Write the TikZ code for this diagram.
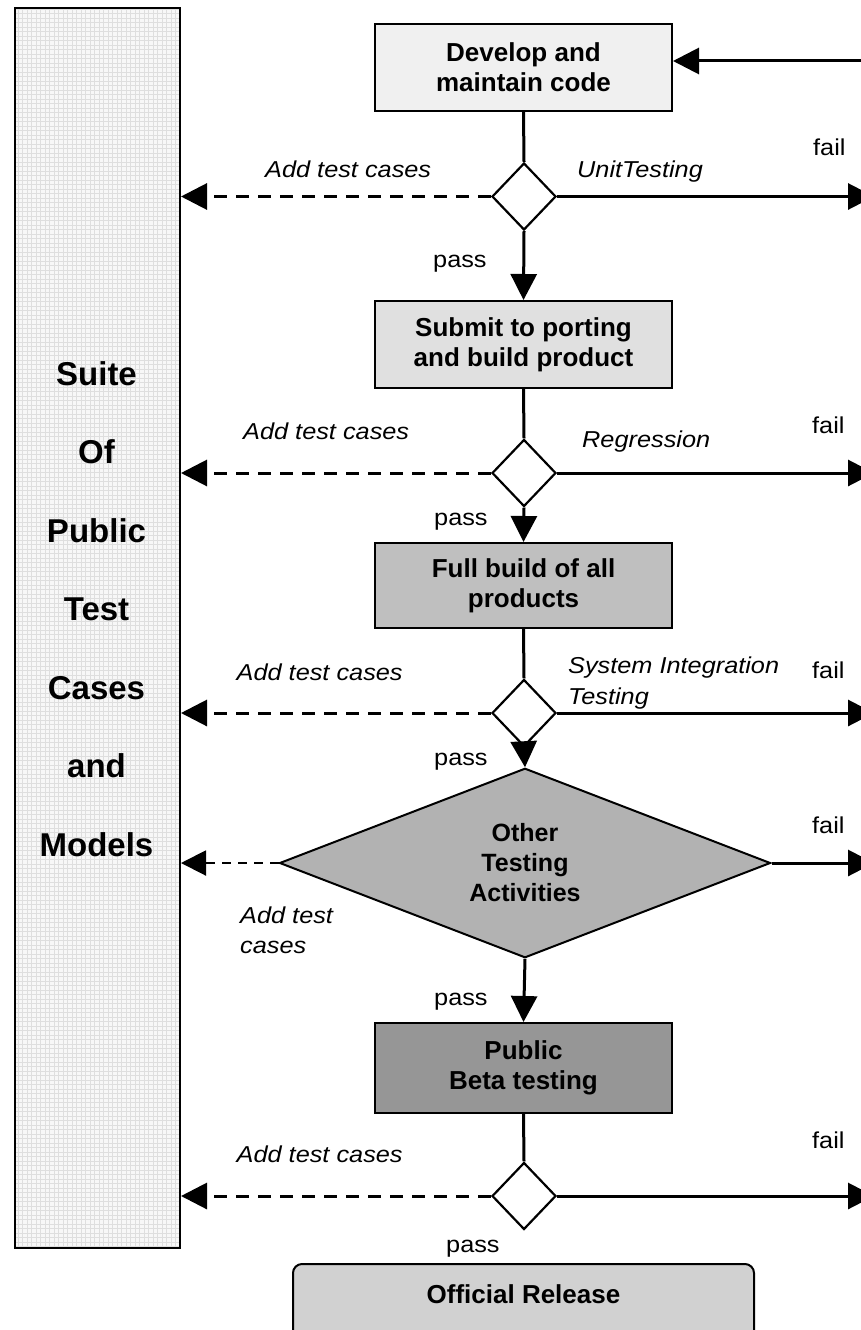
\documentclass[tikz,border=0pt]{standalone}
\usepackage{fontspec}
\setmainfont{Liberation Sans}
\newfontfamily\lblfont[FakeStretch=1.1]{Liberation Sans}
\usetikzlibrary{arrows.meta,shapes.geometric}
\begin{document}
\begin{tikzpicture}[x=1pt,y=-1pt,
  procbox/.style={draw=black, line width=2pt, minimum width=297pt, minimum height=87pt, inner sep=0pt, align=center, font=\bfseries\fontsize{26}{30}\selectfont},
  decis/.style={draw=black, line width=2.2pt, diamond, fill=white, minimum width=64pt, minimum height=67pt, inner sep=0pt},
  flow/.style={line width=3pt, -{Triangle[length=26pt,width=26pt]}},
  plainln/.style={line width=3pt},
  addln/.style={line width=3pt, dash pattern=on 13pt off 9pt, -{Triangle[length=26pt,width=26pt]}},
  addthin/.style={line width=2pt, dash pattern=on 9pt off 7pt, -{Triangle[length=25pt,width=25pt]}},
  lbl/.style={anchor=base west, inner sep=0pt, font=\lblfont\fontsize{23}{26}\selectfont},
  ilbl/.style={anchor=base west, inner sep=0pt, font=\lblfont\itshape\fontsize{23}{26}\selectfont},
  coltxt/.style={anchor=base, inner sep=0pt, font=\bfseries\fontsize{33}{36}\selectfont}
]
\useasboundingbox (0,0) rectangle (861,1330);
\fill[white] (0,0) rectangle (861,1330);

% left column with grid texture
\fill[black!3] (14,7) rectangle (179,1247);
\begin{scope}
  \clip (14,7) rectangle (179,1247);
  \draw[black!13, line width=0.9pt, step=4.5pt] (14,1247) grid (179,7);
\end{scope}
\node[draw=black, line width=2pt, minimum width=165pt, minimum height=1240pt, inner sep=0pt, anchor=north west] (col) at (14,7) {};
\foreach \w [count=\i] in {Suite,Of,Public,Test,Cases,and,Models}
  \node[coltxt] (s\i) at (96.5,{385+78.5*(\i-1)}) {\w};

% main flow
\node[procbox, fill=black!6] (b1) at (523.5,67.5) {Develop and\\maintain code};
\node[decis] (d1) at (524,196.5) {};
\node[procbox, fill=black!12] (b2) at (523.5,344.5) {Submit to porting\\and build product};
\node[decis] (d2) at (524,473) {};
\node[procbox, fill=black!25, minimum height=85pt] (b3) at (523.5,585.5) {Full build of all\\products};
\node[decis] (d3) at (524,713) {};
\node[diamond, draw=black, line width=2pt, fill=black!30, minimum width=491pt, minimum height=160pt, inner sep=0pt, align=center, font=\bfseries\fontsize{25}{30}\selectfont] (big) at (525,863) {Other\\Testing\\Activities};
\node[procbox, fill=black!41, minimum height=90pt] (b5) at (523.5,1068) {Public\\Beta testing};
\node[decis] (d5) at (524,1196) {};
\node[draw=black, line width=2pt, rounded corners=9pt, fill=black!18, minimum width=461pt, anchor=north, inner xsep=0pt, inner ysep=20pt, text height=19pt, text depth=60pt, font=\bfseries\fontsize{26}{30}\selectfont] (rel) at (523.5,1263) {Official Release};

\coordinate (rx) at (874,0);
\coordinate (ret) at (885,61);

% connectors
\draw[flow] (ret) -- (ret -| b1.east);
\draw[plainln] (b1.south) -- (d1.north);
\draw[flow] (d1.south) -- (b2.north);
\draw[plainln] (b2.south) -- (d2.north);
\draw[flow] (d2.south) -- (b3.north);
\draw[plainln] (b3.south) -- (d3.north);
\draw[flow] (d3.south) -- (big.north);
\draw[flow] (big.south) -- (b5.north);
\draw[plainln] (b5.south) -- (d5.north);

\foreach \d in {d1,d2,d3,d5} {
  \draw[flow] (\d.east) -- (\d.east -| rx);
  \draw[addln] (\d.west) -- (\d.west -| col.east);
}
\draw[flow] (big.east) -- (big.east -| rx);
\draw[addthin] (big.west) -- (big.west -| col.east);

% labels
\node[ilbl] (a1) at (265,177) {Add test cases};
\node[ilbl] (t1) at (577,177) {UnitTesting};
\node[lbl] (f1) at (813,155) {fail};
\node[lbl] (p1) at (433,267) {pass};
\node[ilbl] (a2) at (243,439) {Add test cases};
\node[ilbl] (t2) at (582,447) {Regression};
\node[lbl] (f2) at (812,433) {fail};
\node[lbl] (p2) at (434,525) {pass};
\node[ilbl] (a3) at (236.5,680) {Add test cases};
\node[ilbl] (t3) at (568,673) {System Integration};
\node[ilbl] (t3b) at (568,704) {Testing};
\node[lbl] (f3) at (812,678) {fail};
\node[lbl] (p3) at (434,765) {pass};
\node[lbl] (f4) at (812,833) {fail};
\node[ilbl] (a4) at (240,923) {Add test};
\node[ilbl] (a4b) at (240,953) {cases};
\node[lbl] (p4) at (434,1005) {pass};
\node[ilbl] (a5) at (236.5,1162) {Add test cases};
\node[lbl] (f5) at (812,1148) {fail};
\node[lbl] (p5) at (446,1252) {pass};
\end{tikzpicture}
\end{document}
